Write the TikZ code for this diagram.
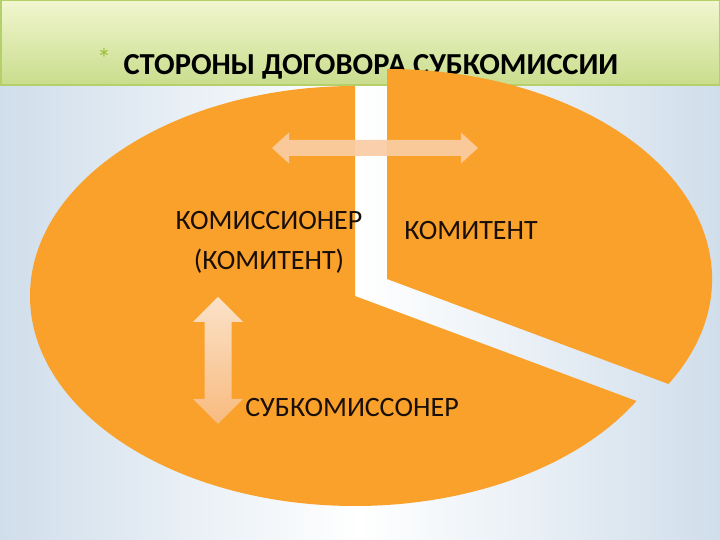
\documentclass[tikz,border=0pt]{standalone}
\usepackage{fontspec}
\setmainfont{Carlito}
\usetikzlibrary{calc}
\definecolor{SlideBlue}{HTML}{D0DEEB}
\definecolor{BarTop}{HTML}{F1F6CF}
\definecolor{BarBottom}{HTML}{C9DD8C}
\definecolor{BarLine}{HTML}{B5CF6A}
\definecolor{PieOrange}{HTML}{F9A12A}
\definecolor{InkDark}{HTML}{1A0F08}
\definecolor{StarGreen}{HTML}{9DBE3A}
\definecolor{ArrowLight}{HTML}{FCE6D1}
\definecolor{ArrowMid}{HTML}{F9CDA4}
\definecolor{ArrowDeep}{HTML}{F8BC84}

\begin{document}
\begin{tikzpicture}[
  x=1pt, y=1pt,
  piece/.style={fill=PieOrange},
  partytext/.style={text=InkDark, font=\fontsize{28}{40}\selectfont, inner sep=0pt, align=center},
  titletext/.style={text=black, font=\fontsize{30.5}{36}\selectfont\bfseries, inner sep=0pt},
  fatarrow/.style={fill=ArrowMid, opacity=0.92}
]
\useasboundingbox (0,0) rectangle (720,540);
% slide background and title bar
\shade[left color=SlideBlue, right color=SlideBlue, middle color=white] (0,0) rectangle (720,455);
\shade[top color=BarTop, bottom color=BarBottom, draw=BarLine, line width=1.5pt] (0.75,455) rectangle (719.25,539.25);
\node[text=StarGreen, font=\fontsize{28}{28}\selectfont, inner sep=0pt] (star) at (104,481) {*};
\node[titletext, anchor=base] (title) at (371,465) {СТОРОНЫ ДОГОВОРА СУБКОМИССИИ};

% pie: big piece and the pulled-out third
\coordinate (pc) at (355,244);
\coordinate (sc) at (387,261);
\fill[piece] (pc) -- ++(0,210) arc[start angle=90, end angle=330, x radius=325, y radius=210] -- cycle;
\fill[piece] (sc) -- ++(281.5,-105) arc[start angle=-30, end angle=90, x radius=325, y radius=210] -- cycle;

% double arrows
\fill[fatarrow] (272,392) -- (289,407.5) -- (289,400) -- (461,400) -- (461,407.5) -- (478,392)
  -- (461,376.5) -- (461,384) -- (289,384) -- (289,376.5) -- cycle;
\shade[top color=ArrowLight, bottom color=ArrowDeep, opacity=0.95] (218,243) -- (243,218) -- (231.5,218) -- (231.5,141) -- (243,141) -- (218,116)
  -- (193,141) -- (204.5,141) -- (204.5,218) -- (193,218) -- cycle;

\node[partytext] (agent) at (269,298) {КОМИССИОНЕР\\(КОМИТЕНТ)};
\node[partytext, anchor=base] (principal) at (471,300) {КОМИТЕНТ};
\node[partytext, anchor=base] (subagent) at (352,123) {СУБКОМИССОНЕР};
\end{tikzpicture}
\end{document}
